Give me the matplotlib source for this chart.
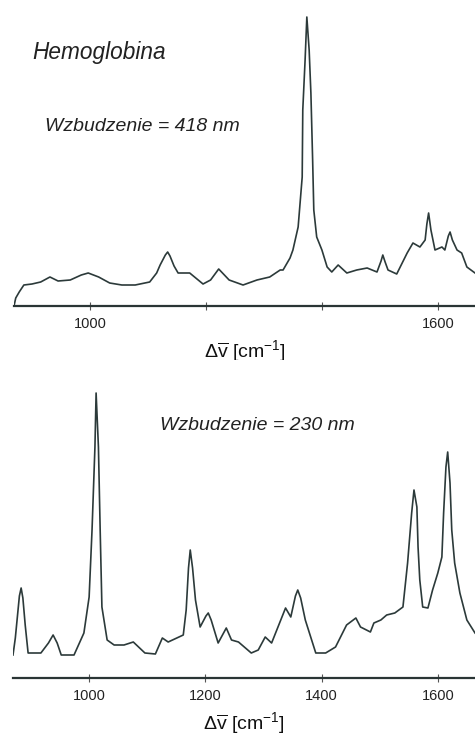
import matplotlib
matplotlib.use("Agg")
import matplotlib.pyplot as plt

# ----------------------------------------------------------
# DATA (arbitrary intensity units)
# ----------------------------------------------------------

# Hemoglobina, excitation 418 nm
shift_418 = [869, 872, 878, 886, 900, 915, 931, 945, 966, 985, 997, 1015,
             1034, 1055, 1078, 1103, 1115, 1121, 1130, 1134, 1138, 1145,
             1152, 1172, 1195, 1208, 1222, 1240, 1264, 1288, 1310, 1328,
             1333, 1345, 1350, 1359, 1366, 1367, 1371, 1374, 1378, 1381,
             1384, 1386, 1391, 1400, 1409, 1417, 1428, 1443, 1460, 1478,
             1495, 1502, 1505, 1509, 1514, 1529, 1547, 1557, 1569, 1578,
             1581, 1584, 1588, 1595, 1607, 1612, 1618, 1621, 1625, 1633,
             1641, 1650, 1664]
inten_418 = [0, 8, 14, 21, 22, 24, 29, 25, 26, 31, 33, 29,
             23, 21, 21, 24, 33, 41, 51, 54, 50, 40,
             33, 33, 22, 26, 37, 26, 21, 26, 29, 36,
             36, 48, 56, 79, 129, 196, 246, 289, 256, 213,
             146, 96, 69, 56, 39, 34, 41, 33, 36, 38,
             34, 45, 51, 44, 36, 32, 53, 63, 59, 66,
             82, 93, 76, 56, 59, 56, 70, 74, 66, 56,
             53, 39, 33]

# excitation 230 nm
shift_230 = [869, 873, 876, 880, 883, 886, 890, 895, 917, 930, 938, 945,
             952, 974, 991, 1000, 1005, 1010, 1012, 1016, 1019, 1022, 1031,
             1043, 1060, 1076, 1096, 1114, 1126, 1136, 1162, 1167, 1171,
             1174, 1178, 1183, 1191, 1201, 1205, 1210, 1222, 1236, 1245,
             1257, 1279, 1291, 1303, 1314, 1338, 1347, 1355, 1359, 1364,
             1372, 1390, 1407, 1424, 1443, 1459, 1467, 1484, 1490, 1502,
             1512, 1526, 1540, 1548, 1555, 1559, 1564, 1566, 1569, 1574,
             1583, 1591, 1600, 1607, 1610, 1614, 1617, 1621, 1624, 1629,
             1638, 1650, 1664]
inten_230 = [23, 40, 58, 82, 90, 80, 53, 25, 25, 35, 43, 35,
             23, 23, 45, 81, 148, 231, 285, 231, 148, 71, 38,
             33, 33, 36, 25, 24, 40, 36, 43, 68, 110,
             128, 110, 78, 51, 62, 65, 58, 35, 50, 38,
             36, 25, 28, 41, 35, 70, 61, 82, 88, 80,
             58, 25, 25, 31, 53, 60, 51, 46, 55, 58,
             63, 65, 71, 115, 165, 188, 171, 131, 98, 71,
             70, 88, 105, 121, 165, 211, 226, 195, 148, 115,
             85, 58, 45]

tick_pos = [1000, 1200, 1400, 1600]
top_tick_labels = ["1000", "", "", "1600"]
bottom_tick_labels = ["1000", "1200", "1400", "1600"]

XMIN, XMAX = 869, 1664
LINE_COLOR = "#2c3a3a"
XLABEL = r"$\Delta\overline{\mathrm{v}}\ [\mathrm{cm}^{\mathrm{-1}}]$"

plt.rcParams["font.family"] = ["Liberation Sans", "DejaVu Sans"]
plt.rcParams["mathtext.fontset"] = "custom"
plt.rcParams["mathtext.rm"] = "Liberation Sans"
plt.rcParams["mathtext.it"] = "Liberation Sans:italic"


def style_axis(ax, labels):
    for side in ("left", "top", "right"):
        ax.spines[side].set_visible(False)
    ax.spines["bottom"].set_linewidth(1.6)
    ax.spines["bottom"].set_color("#2a3535")
    ax.set_yticks([])
    ax.set_xlim(XMIN, XMAX)
    ax.set_xticks(tick_pos)
    ax.set_xticklabels(labels, family=["Liberation Sans Narrow", "Liberation Sans"],
                       fontsize=10.5, color="#222")
    ax.tick_params(axis="x", direction="inout", length=6, width=0.8,
                   color="#555", pad=5)
    ax.set_xlabel(XLABEL, fontsize=14, color="#111", labelpad=5)


fig = plt.figure(figsize=(4.75, 7.42), dpi=100)

# top panel
ax1 = fig.add_axes([14 / 475, 436 / 742, 461 / 475, 306 / 742])
ax1.plot(shift_418, inten_418, color=LINE_COLOR, linewidth=1.2)
ax1.set_ylim(0, 306)
style_axis(ax1, top_tick_labels)
ax1.text(0.04, 0.83, "Hemoglobina", transform=ax1.transAxes, fontsize=16.3,
         style="italic", color="#222", va="center")
ax1.text(0.068, 0.585, "Wzbudzenie = 418 nm", transform=ax1.transAxes,
         fontsize=14, style="italic", color="#222", va="center")

# bottom panel
ax2 = fig.add_axes([13 / 475, 64 / 742, 462 / 475, 318 / 742])
ax2.plot(shift_230, inten_230, color=LINE_COLOR, linewidth=1.2)
ax2.set_ylim(0, 318)
style_axis(ax2, bottom_tick_labels)
ax2.text(0.318, 0.795, "Wzbudzenie = 230 nm", transform=ax2.transAxes,
         fontsize=14, style="italic", color="#222", va="center")

fig.savefig("out.png", dpi=100)
